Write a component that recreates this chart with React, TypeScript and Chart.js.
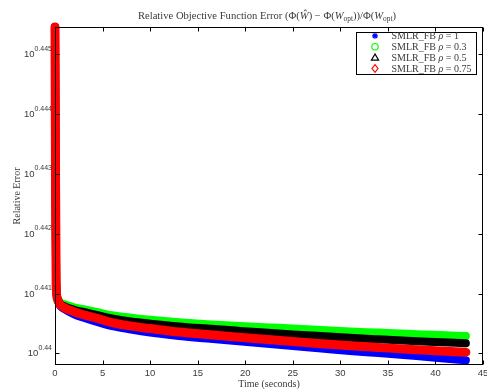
import { useEffect, useRef } from "react";
import { Chart, registerables } from "chart.js";
Chart.register(...registerables);

// time stamps (seconds)
const timeSec = [0, 0.05, 0.12, 0.25, 0.5, 1, 2, 3, 4.5, 6, 8, 10, 13, 16, 19, 22, 25, 28, 31, 34, 37, 40, 43.2];

// log10 of relative error
const log10ErrRho1 = [0.445456, 0.443085, 0.441095, 0.440896, 0.440804, 0.440738, 0.440655, 0.440597, 0.440522, 0.440456, 0.440398, 0.440348, 0.44029, 0.440249, 0.440207, 0.440166, 0.440124, 0.440083, 0.440041, 0.440005, 0.439967, 0.439929, 0.439884];
const log10ErrRho03 = [0.445456, 0.44325, 0.44126, 0.440945, 0.440862, 0.440821, 0.440771, 0.440738, 0.440688, 0.440638, 0.440597, 0.440564, 0.440522, 0.440489, 0.440464, 0.440439, 0.440415, 0.44039, 0.440365, 0.440348, 0.440328, 0.44031, 0.44029];
const log10ErrRho05 = [0.445456, 0.443201, 0.441211, 0.440929, 0.440838, 0.440788, 0.44073, 0.440692, 0.440638, 0.440584, 0.440534, 0.440498, 0.440451, 0.440415, 0.440381, 0.440348, 0.440318, 0.44029, 0.44026, 0.440235, 0.440212, 0.440191, 0.440169];
const log10ErrRho075 = [0.445456, 0.443168, 0.441161, 0.440912, 0.440821, 0.440763, 0.440697, 0.440647, 0.440584, 0.440514, 0.440456, 0.440415, 0.440357, 0.440315, 0.440274, 0.440235, 0.440199, 0.440163, 0.440128, 0.4401, 0.440071, 0.440046, 0.44002];

const xTicks = [0, 5, 10, 15, 20, 25, 30, 35, 40, 45];
const yTickExps = [0.44, 0.441, 0.442, 0.443, 0.444, 0.445];
const yTickLabels = ["0.44", "0.441", "0.442", "0.443", "0.444", "0.445"];
const legendRhos = ["1", "0.3", "0.5", "0.75"];
const legendColors = ["#0000ff", "#00ff00", "#000000", "#ff0000"];
const yMinExp = 0.439851;
const yMaxExp = 0.445456;

const SERIF = '"Liberation Serif", "Times New Roman", serif';
const SANS = '"Liberation Sans", Arial, sans-serif';
const TEXT = "#3a3a3a";

type Seg = { t: string; f: string; dy?: number };

function drawRich(ctx: CanvasRenderingContext2D, segs: Seg[], x: number, y: number, align: string) {
  let w = 0;
  for (const s of segs) {
    ctx.font = s.f;
    w += ctx.measureText(s.t).width;
  }
  let cx = align === "center" ? x - w / 2 : align === "right" ? x - w : x;
  ctx.textAlign = "left";
  ctx.textBaseline = "alphabetic";
  for (const s of segs) {
    ctx.font = s.f;
    ctx.fillText(s.t, cx, y + (s.dy || 0));
    cx += ctx.measureText(s.t).width;
  }
}

function drawMarker(ctx: CanvasRenderingContext2D, kind: number, cx: number, cy: number, color: string) {
  ctx.save();
  ctx.strokeStyle = color;
  ctx.lineWidth = 1.2;
  ctx.beginPath();
  if (kind === 0) {
    const r = 3;
    const d = r * 0.72;
    ctx.moveTo(cx - r, cy); ctx.lineTo(cx + r, cy);
    ctx.moveTo(cx, cy - r); ctx.lineTo(cx, cy + r);
    ctx.moveTo(cx - d, cy - d); ctx.lineTo(cx + d, cy + d);
    ctx.moveTo(cx - d, cy + d); ctx.lineTo(cx + d, cy - d);
  } else if (kind === 1) {
    ctx.arc(cx, cy, 3.2, 0, Math.PI * 2);
  } else if (kind === 2) {
    ctx.moveTo(cx, cy - 3.6);
    ctx.lineTo(cx - 3.6, cy + 2.6);
    ctx.lineTo(cx + 3.6, cy + 2.6);
    ctx.closePath();
  } else {
    ctx.moveTo(cx, cy - 3.8);
    ctx.lineTo(cx + 3, cy);
    ctx.lineTo(cx, cy + 3.8);
    ctx.lineTo(cx - 3, cy);
    ctx.closePath();
  }
  ctx.stroke();
  ctx.restore();
}

const decorPlugin = {
  id: "matlabDecor",
  afterDatasetsDraw(chart: any) {
    const { ctx, chartArea: a, scales } = chart;
    const xs = scales.x;
    const ys = scales.y;
    const L = Math.round(a.left) + 0.5;
    const R = Math.round(a.right) - 0.5;
    const T = Math.round(a.top) + 0.5;
    const B = Math.round(a.bottom) - 0.5;
    ctx.save();
    ctx.strokeStyle = "#000";
    ctx.lineWidth = 1;
    ctx.strokeRect(L, T, R - L, B - T);
    ctx.beginPath();
    for (const v of xTicks) {
      const px = Math.round(xs.getPixelForValue(v)) + 0.5;
      ctx.moveTo(px, B); ctx.lineTo(px, B - 4);
      ctx.moveTo(px, T); ctx.lineTo(px, T + 4);
    }
    for (const e of yTickExps) {
      const py = Math.round(ys.getPixelForValue(Math.pow(10, e))) + 0.5;
      ctx.moveTo(L, py); ctx.lineTo(L + 4, py);
      ctx.moveTo(R, py); ctx.lineTo(R - 4, py);
    }
    ctx.stroke();

    ctx.fillStyle = TEXT;
    // x tick labels
    ctx.font = `9.5px ${SANS}`;
    ctx.textAlign = "center";
    ctx.textBaseline = "alphabetic";
    for (const v of xTicks) {
      ctx.fillText(String(v), xs.getPixelForValue(v), a.bottom + 10.5);
    }
    // y tick labels 10^exp
    yTickExps.forEach((e, i) => {
      const py = ys.getPixelForValue(Math.pow(10, e));
      ctx.font = `7px ${SANS}`;
      const supW = ctx.measureText(yTickLabels[i]).width;
      const right = a.left - 3;
      ctx.textAlign = "left";
      ctx.fillText(yTickLabels[i], right - supW, py - 3.5);
      ctx.font = `9.5px ${SANS}`;
      ctx.textAlign = "right";
      ctx.fillText("10", right - supW, py + 3);
    });

    // axis titles
    const R10 = `10px ${SERIF}`;
    const I10 = `italic 10px ${SERIF}`;
    const RT = `10.6px ${SERIF}`;
    const IT = `italic 10.6px ${SERIF}`;
    const ST = `7.4px ${SERIF}`;
    const midX = (a.left + a.right) / 2;
    ctx.font = R10;
    ctx.textAlign = "center";
    ctx.fillText("Time (seconds)", midX, 387);
    ctx.save();
    ctx.translate(20, (a.top + a.bottom) / 2);
    ctx.rotate(-Math.PI / 2);
    ctx.textAlign = "center";
    ctx.fillText("Relative Error", 0, 0);
    ctx.restore();

    // title
    drawRich(ctx, [
      { t: "Relative Objective Function Error (Φ(", f: RT },
      { t: "Ŵ", f: IT },
      { t: ") − Φ(", f: RT },
      { t: "W", f: IT },
      { t: "opt", f: ST, dy: 2 },
      { t: "))/Φ(", f: RT },
      { t: "W", f: IT },
      { t: "opt", f: ST, dy: 2 },
      { t: ")", f: RT },
    ], midX - 2, 18.5, "center");

    // legend
    const bx = 356.5, by = 32.5, bw = 120, bh = 42;
    ctx.fillStyle = "#fff";
    ctx.fillRect(bx, by, bw, bh);
    ctx.strokeStyle = "#000";
    ctx.lineWidth = 1;
    ctx.strokeRect(bx, by, bw, bh);
    for (let i = 0; i < 4; i++) {
      const cy = 35.8 + i * 10.9;
      drawMarker(ctx, i, 375, cy, legendColors[i]);
      ctx.fillStyle = TEXT;
      drawRich(ctx, [
        { t: "SMLR_FB ", f: R10 },
        { t: "ρ", f: I10 },
        { t: " = " + legendRhos[i], f: R10 },
      ], 391.5, cy + 3.4, "left");
    }
    ctx.restore();
  },
};

function series(vals: number[]) {
  return timeSec.map((t, i) => ({ x: t, y: Math.pow(10, vals[i]) }));
}

export default function App() {
  const ref = useRef<HTMLCanvasElement | null>(null);
  useEffect(() => {
    if (!ref.current) return;
    const mk = (label: string, vals: number[], color: string, width: number, order: number) => ({
      label,
      data: series(vals),
      borderColor: color,
      backgroundColor: color,
      borderWidth: width,
      pointRadius: 0,
      borderCapStyle: "round",
      borderJoinStyle: "round",
      cubicInterpolationMode: "monotone",
      clip: 10,
      order,
    });
    const chart = new Chart(ref.current, {
      type: "line",
      data: {
        datasets: [
          mk("SMLR_FB ρ = 1", log10ErrRho1, "#0000ff", 8, 3),
          mk("SMLR_FB ρ = 0.3", log10ErrRho03, "#00ff00", 8, 2),
          mk("SMLR_FB ρ = 0.5", log10ErrRho05, "#000000", 8, 1),
          mk("SMLR_FB ρ = 0.75", log10ErrRho075, "#ff0000", 9, 0),
        ] as any,
      },
      options: {
        animation: false,
        responsive: false,
        maintainAspectRatio: false,
        layout: { padding: { top: 27, right: 4, left: 0, bottom: 0 } },
        plugins: { legend: { display: false }, title: { display: false }, tooltip: { enabled: false } },
        scales: {
          x: {
            type: "linear",
            min: 0,
            max: 45,
            grid: { display: false, drawTicks: false },
            border: { display: false },
            ticks: { display: false, stepSize: 5 },
            afterFit: (s: any) => { s.height = 25; },
          },
          y: {
            type: "logarithmic",
            min: Math.pow(10, yMinExp),
            max: Math.pow(10, yMaxExp),
            grid: { display: false, drawTicks: false },
            border: { display: false },
            ticks: { display: false },
            afterBuildTicks: (s: any) => { s.ticks = yTickExps.map((e) => ({ value: Math.pow(10, e) })); },
            afterFit: (s: any) => { s.width = 55; },
          },
        },
      } as any,
      plugins: [decorPlugin],
    });
    return () => chart.destroy();
  }, []);
  return (
    <div style={{ position: "absolute", left: 0, top: 0, width: 487, height: 390, background: "#fff" }}>
      <canvas ref={ref} width={487} height={390} style={{ display: "block" }} />
    </div>
  );
}
